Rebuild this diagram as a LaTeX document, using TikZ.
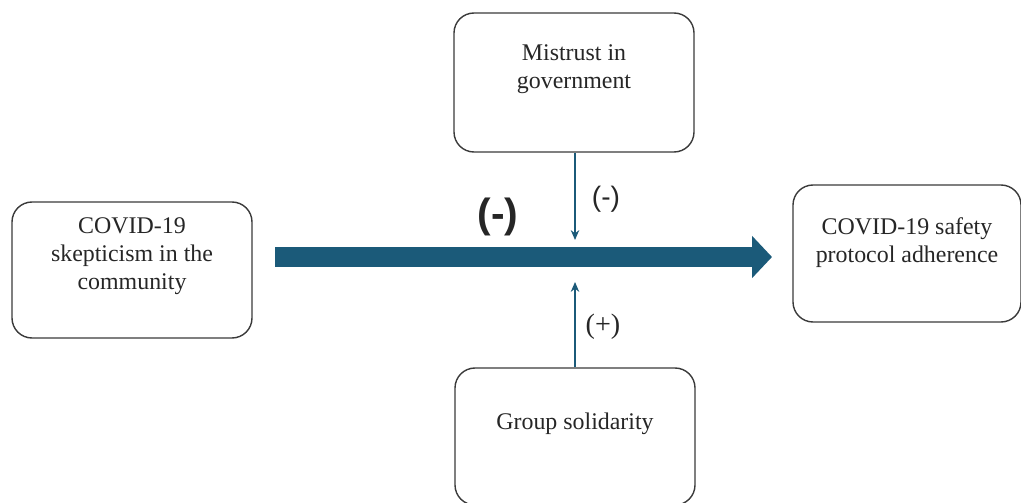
\documentclass[tikz,border=0pt]{standalone}
\usepackage{fontspec}
\setmainfont{Liberation Serif}
\setsansfont{Liberation Sans}
\usetikzlibrary{arrows.meta,calc}
\definecolor{pathteal}{HTML}{1B5A79}
\definecolor{boxline}{HTML}{3A3A3A}
\tikzset{
  factor/.style={draw=boxline,line width=1pt,rounded corners=0.5cm,minimum width=6cm,minimum height=3.4cm},
  factortext/.style={align=center,font=\fontsize{17}{20}\selectfont,text=black!85},
  modarrow/.style={pathteal,line width=1pt,-{Stealth[length=7pt,width=6pt]}},
  signlabel/.style={text=black!85}
}
\begin{document}
\begin{tikzpicture}
\clip (0,0) rectangle (25.525,12.55);
% boxes
\node[factor] (skep) at (3.3,5.8) {};
\node[factor,minimum height=3.475cm] (mistrust) at (14.35,10.4875) {};
\node[factor,minimum width=5.7cm,minimum height=3.425cm] (adhere) at (22.675,6.2125) {};
\node[factor,minimum height=3.425cm] (solid) at (14.375,1.6375) {};
% box texts
\node[factortext] (skeptext) at ($(skep.center)+(0,0.35)$) {COVID-19\\skepticism in the\\community};
\node[factortext] (mistrusttext) at ($(mistrust.center)+(0,0.33)$) {Mistrust in\\government};
\node[factortext] (adheretext) at ($(adhere.center)+(0,0.28)$) {COVID-19 safety\\protocol adherence};
\node[factortext] (solidtext) at ($(solid.center)+(0,0.32)$) {Group solidarity};
% main path
\coordinate (mainstart) at (6.875,6.125);
\coordinate (mainend) at (19.3,6.125);
\draw[pathteal,line width=0.5cm,-{Triangle[length=0.5cm,width=1.03cm]}] (mainstart) -- (mainend);
% moderators
\coordinate (hittop) at (14.375,6.55);
\coordinate (hitbottom) at (14.375,5.5);
\draw[modarrow] (mistrust.south -| hittop) -- (hittop);
\draw[modarrow] (solid.north -| hitbottom) -- (hitbottom);
% signs
\node[signlabel,font=\sffamily\bfseries\fontsize{29}{31}\selectfont] (mainsign) at (12.45,7.125) {(-)};
\node[signlabel,font=\sffamily\fontsize{20}{22}\selectfont] (topsign) at (15.15,7.575) {(-)};
\node[signlabel,font=\fontsize{20}{22}\selectfont] (bottomsign) at (15.075,4.375) {(+)};
\end{tikzpicture}
\end{document}
